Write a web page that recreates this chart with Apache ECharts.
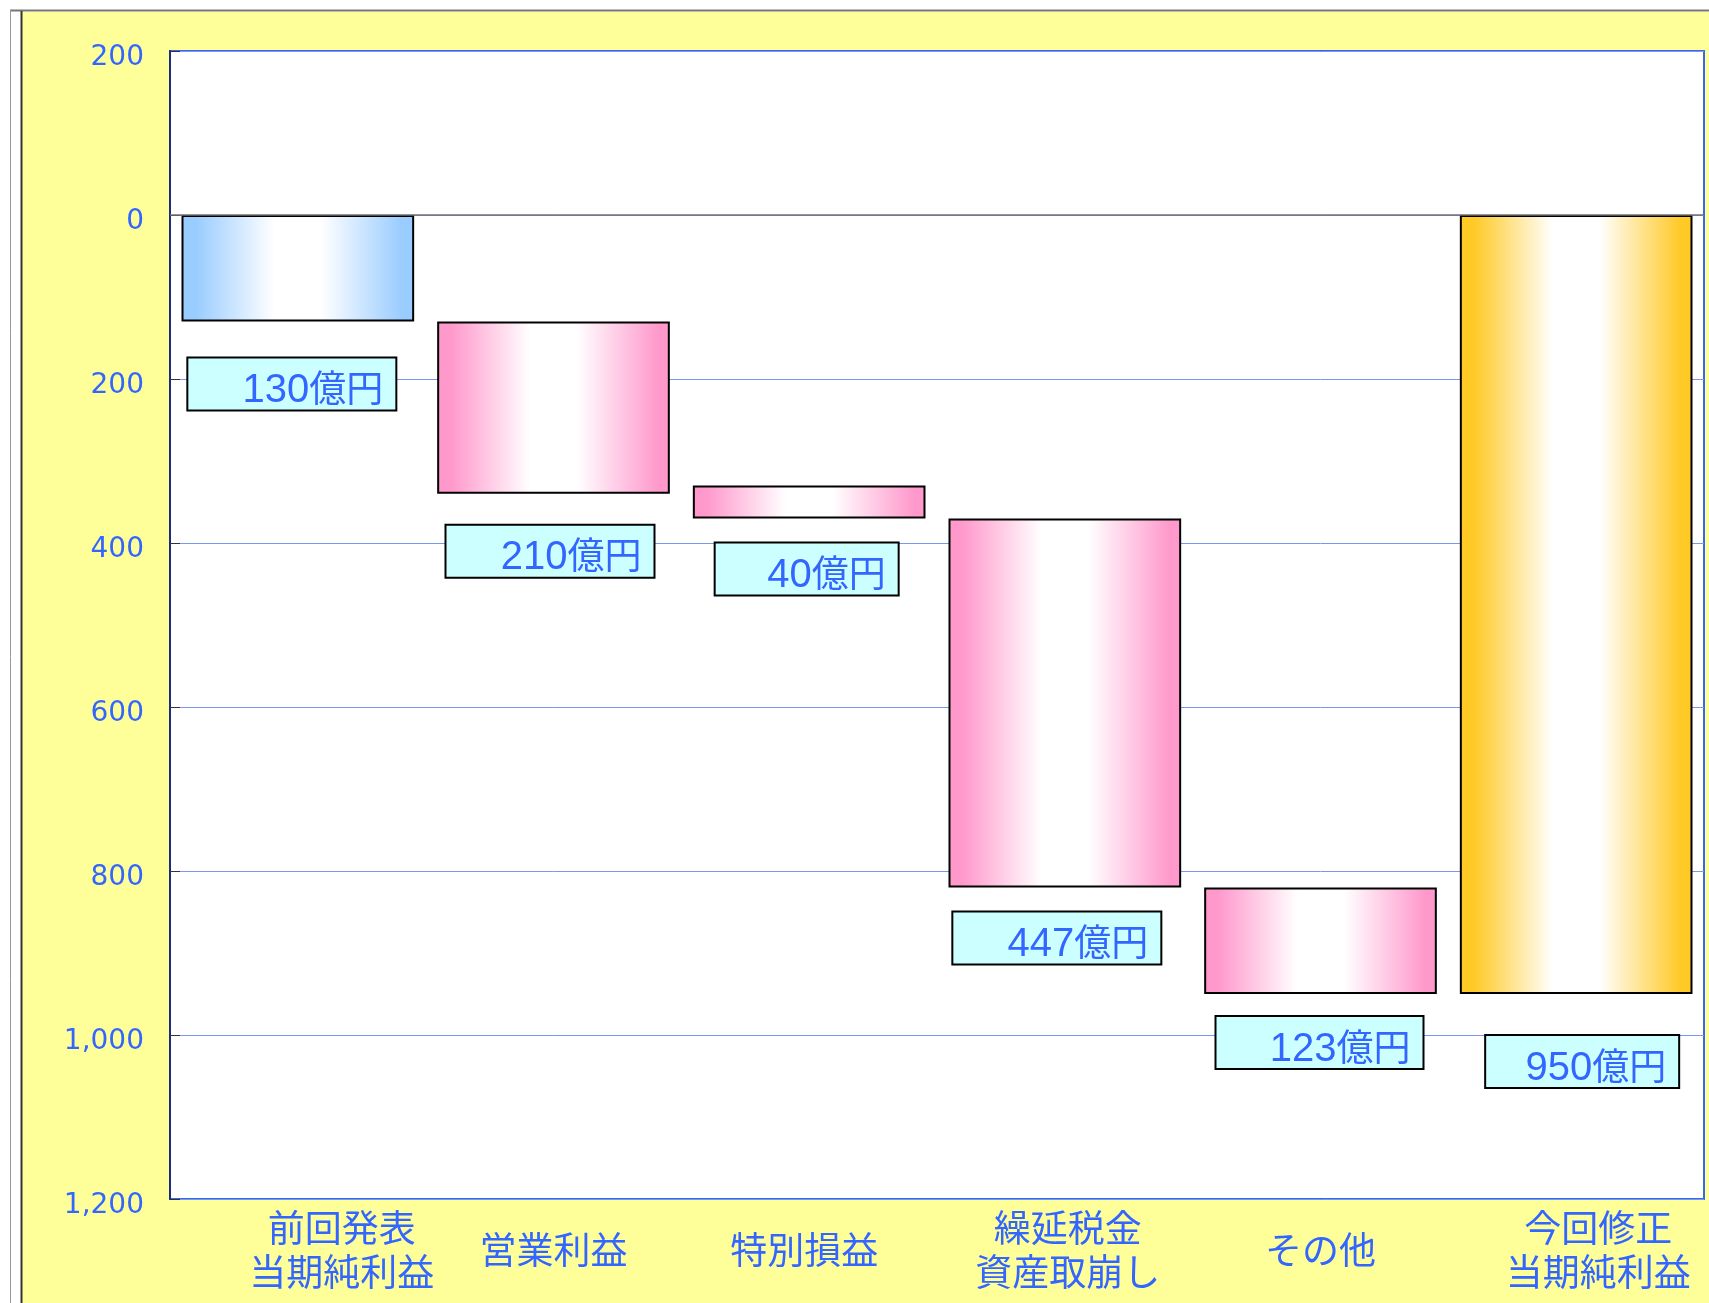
<!DOCTYPE html>
<html>
<head>
<meta charset="utf-8">
<script src="https://cdn.jsdelivr.net/npm/echarts@6/dist/echarts.min.js"></script>
<style>
html, body { margin: 0; padding: 0; background: #fff; }
#main { width: 1709px; height: 1303px; }
</style>
</head>
<body>
<div id="main"></div>
<script>
// データ
var categories = ['前回発表\n当期純利益', '営業利益', '特別損益', '繰延税金\n資産取崩し', 'その他', '今回修正\n当期純利益'];
var barStart = [0, 130, 330, 370, 820, 0];
var barSize = [130, 210, 40, 450, 130, 950];
var amountText = ['130億円', '210億円', '40億円', '447億円', '123億円', '950億円'];
var barKind = ['blue', 'pink', 'pink', 'pink', 'pink', 'gold'];
var yTickLabels = ['200', '0', '200', '400', '600', '800', '1,000', '1,200'];

// レイアウト（ラベル位置の微調整）
var labelShift = [[-6, 37], [-3.5, 32], [-2.5, 25], [-8, 25], [-1, 23], [6, 42]];
var boxWidth = [195, 195, 170, 195, 194, 180];
var catShift = [44, 0, -5, 3, 0, 22];

var kindColor = { blue: '#99ccff', pink: '#ff99cc', gold: '#ffc926' };
var txtBlue = '#3366ff';
var jpFont = '"Liberation Sans", "Noto Sans CJK JP", sans-serif';
var numFont = '"DejaVu Sans", "Noto Sans CJK JP", sans-serif';
var unitW = 74;

function barFill(c) {
    return new echarts.graphic.LinearGradient(0, 0, 1, 0, [
        { offset: 0, color: c },
        { offset: 0.06, color: c },
        { offset: 0.4, color: '#ffffff' },
        { offset: 0.6, color: '#ffffff' },
        { offset: 0.95, color: c },
        { offset: 1, color: c }
    ]);
}

var valueData = barSize.map(function (v, i) {
    var num = amountText[i].replace(/億円$/, '');
    return {
        value: v,
        itemStyle: { color: barFill(kindColor[barKind[i]]) },
        label: {
            offset: labelShift[i],
            formatter: '{d|' + num + '}{u|億円}',
            rich: {
                d: {
                    width: boxWidth[i] - unitW, align: 'right', fontSize: 40, lineHeight: 37,
                    color: txtBlue, fontFamily: '"Liberation Sans", Arial, sans-serif'
                },
                u: {
                    width: unitW, align: 'right', fontSize: 37, lineHeight: 31,
                    padding: [0, 0, 6, 0],
                    color: txtBlue, fontFamily: '"Noto Sans CJK JP", sans-serif'
                }
            }
        }
    };
});

var catRich = {};
catShift.forEach(function (s, i) {
    catRich['c' + i] = {
        fontSize: 37, lineHeight: 44, color: txtBlue, fontFamily: jpFont,
        padding: s >= 0 ? [0, 0, 0, 2 * s] : [0, -2 * s, 0, 0]
    };
});

var chart = echarts.init(document.getElementById('main'));
var option = {
    backgroundColor: '#ffffff',
    animation: false,
    graphic: [
        { type: 'rect', z: -10, shape: { x: 22, y: 12, width: 1700, height: 1300 }, style: { fill: '#ffff99' } },
        { type: 'line', z: -9, shape: { x1: 10, y1: 10.5, x2: 1709, y2: 10.5 }, style: { stroke: '#777', lineWidth: 2 } },
        { type: 'line', z: -9, shape: { x1: 10.5, y1: 10, x2: 10.5, y2: 1303 }, style: { stroke: '#999', lineWidth: 1 } },
        { type: 'line', z: -9, shape: { x1: 21.5, y1: 11, x2: 21.5, y2: 1303 }, style: { stroke: '#333', lineWidth: 2 } }
    ],
    grid: {
        left: 170, top: 51, right: 5, bottom: 104,
        outerBoundsMode: 'none',
        show: true, backgroundColor: '#ffffff', borderColor: '#3a66f5', borderWidth: 2
    },
    xAxis: {
        type: 'category',
        data: categories,
        axisLine: { show: false },
        axisTick: { show: false },
        axisLabel: {
            interval: 0,
            margin: 55,
            verticalAlign: 'middle',
            formatter: function (value, idx) {
                return value.split('\n').map(function (s) { return '{c' + idx + '|' + s + '}'; }).join('\n');
            },
            rich: catRich
        }
    },
    yAxis: {
        type: 'value',
        inverse: true,
        min: -200,
        max: 1200,
        interval: 200,
        axisLine: { show: true, lineStyle: { color: '#1a2e80', width: 2 } },
        axisTick: { show: true, inside: true, length: 10, lineStyle: { color: '#333' } },
        axisLabel: {
            margin: 26,
            formatter: function (v) { return '{n|' + yTickLabels[Math.round((v + 200) / 200)] + '}'; },
            rich: {
                n: { fontSize: 28, color: txtBlue, fontFamily: numFont, padding: [14, 0, 0, 0] }
            }
        },
        splitLine: { show: true, lineStyle: { color: '#7896f2', width: 1 } }
    },
    series: [
        {
            name: 'base',
            type: 'bar',
            stack: 'w',
            silent: true,
            barCategoryGap: '9%',
            itemStyle: { color: 'transparent', borderWidth: 0 },
            data: barStart
        },
        {
            name: 'amount',
            type: 'bar',
            stack: 'w',
            barCategoryGap: '9%',
            itemStyle: { borderColor: '#000', borderWidth: 2 },
            label: {
                show: true,
                position: 'bottom',
                distance: 0,
                backgroundColor: '#ccffff',
                borderColor: '#000',
                borderWidth: 2,
                padding: [14, 12, 0, 0]
            },
            markLine: {
                silent: true,
                symbol: 'none',
                label: { show: false },
                lineStyle: { color: '#707070', width: 1.5, type: 'solid' },
                data: [{ yAxis: 0 }]
            },
            data: valueData
        }
    ]
};
chart.setOption(option);
</script>
</body>
</html>
